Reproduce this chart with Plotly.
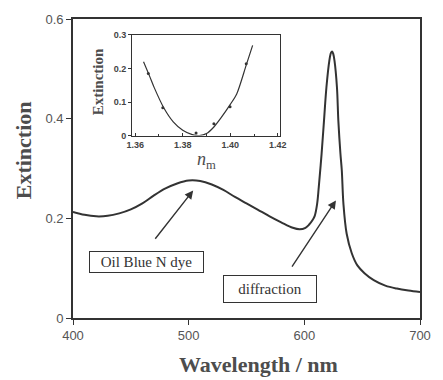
import plotly.graph_objects as go

# Extinction spectrum of the dye-doped grating
wavelength = [400, 410, 420, 430, 440, 450, 460, 470, 480, 490, 500, 510, 520, 530,
              540, 550, 560, 570, 580, 590, 596, 601, 604, 607, 609, 611, 612.5, 614.9,
              617, 619.1, 621.6, 623, 624, 625, 626.1, 628.2, 629.4, 631.2, 632.4,
              633.8, 636.6, 641, 646, 652, 660, 670, 680, 690, 700]
extinction = [0.213, 0.207, 0.204, 0.205, 0.210, 0.218, 0.230, 0.246, 0.260, 0.270,
              0.276, 0.275, 0.268, 0.257, 0.243, 0.230, 0.217, 0.204, 0.192, 0.181,
              0.178, 0.181, 0.187, 0.196, 0.205, 0.228, 0.263, 0.329, 0.396, 0.463,
              0.516, 0.532, 0.535, 0.530, 0.516, 0.463, 0.396, 0.330, 0.296, 0.229,
              0.169, 0.130, 0.105, 0.090, 0.076, 0.065, 0.059, 0.055, 0.052]

# Inset: diffraction extinction vs. medium refractive index
n_fit = [1.3635, 1.366, 1.368, 1.372, 1.376, 1.380, 1.384, 1.387, 1.390, 1.393,
         1.396, 1.400, 1.4027, 1.4067, 1.4094]
ext_fit = [0.220, 0.178, 0.143, 0.083, 0.041, 0.016, 0.003, 0.000, 0.006, 0.025,
           0.052, 0.093, 0.124, 0.210, 0.269]
n_meas = [1.3655, 1.3716, 1.3856, 1.3931, 1.3999, 1.4067]
ext_meas = [0.185, 0.083, 0.008, 0.035, 0.086, 0.214]

main_ticks_x = [400, 500, 600, 700]
main_ticks_y = [0, 0.2, 0.4, 0.6]
main_ticktext_y = ["0", "0.2", "0.4", "0.6"]
inset_ticks_x = [1.36, 1.38, 1.40, 1.42]
inset_ticktext_x = ["1.36", "1.38", "1.40", "1.42"]
inset_ticks_y = [0, 0.1, 0.2, 0.3]
inset_ticktext_y = ["0", "0.1", "0.2", "0.3"]

LINE = "#333333"
TEXT = "#4d4d4d"
SERIF = "Liberation Serif, Times New Roman, serif"
SANS = "Liberation Sans, Arial, sans-serif"

fig = go.Figure()
fig.add_trace(go.Scatter(x=wavelength, y=extinction, mode="lines",
                         line=dict(color=LINE, width=2, shape="spline", smoothing=1.0),
                         xaxis="x", yaxis="y", hoverinfo="skip"))
fig.add_trace(go.Scatter(x=n_fit, y=ext_fit, mode="lines",
                         line=dict(color=LINE, width=1.2, shape="spline", smoothing=0.8),
                         xaxis="x2", yaxis="y2", hoverinfo="skip"))
fig.add_trace(go.Scatter(x=n_meas, y=ext_meas, mode="markers",
                         marker=dict(color=LINE, size=3),
                         xaxis="x2", yaxis="y2", hoverinfo="skip"))

axis_common = dict(showgrid=False, zeroline=False, showline=True, mirror=True,
                   linecolor=LINE)

fig.update_layout(
    width=443, height=380,
    margin=dict(l=73, r=12, t=18, b=62),
    paper_bgcolor="white", plot_bgcolor="white",
    showlegend=False,
    xaxis=dict(**axis_common, linewidth=1.6, range=[400, 700], tickvals=main_ticks_x,
               ticks="outside", ticklen=5, tickcolor=LINE,
               tickfont=dict(family=SANS, size=13, color="#555555")),
    yaxis=dict(**axis_common, linewidth=1.6, range=[0, 0.6], tickvals=main_ticks_y,
               ticktext=main_ticktext_y, ticks="outside", ticklen=5, tickcolor=LINE,
               tickfont=dict(family=SANS, size=13, color="#555555")),
    xaxis2=dict(**axis_common, linewidth=1.2, domain=[0.1704, 0.5978], anchor="y2",
                range=[1.3587, 1.4211], tickvals=inset_ticks_x, ticktext=inset_ticktext_x,
                ticks="inside", ticklen=3, tickcolor=LINE,
                minor=dict(dtick=0.01, tick0=1.36, ticks="inside", ticklen=2, tickcolor=LINE),
                tickfont=dict(family=SANS, size=9, color="#444444", weight="bold")),
    yaxis2=dict(**axis_common, linewidth=1.2, domain=[0.61, 0.9467], anchor="x2",
                range=[0, 0.3], tickvals=inset_ticks_y, ticktext=inset_ticktext_y,
                ticks="outside", ticklen=3, tickcolor=LINE,
                tickfont=dict(family=SANS, size=9, color="#444444", weight="bold")),
)

centered = dict(xanchor="center", yanchor="middle", showarrow=False)
annotations = [
    # axis titles
    dict(text="<b>Extinction</b>", xref="paper", yref="paper", x=-0.142, y=0.56,
         textangle=-90, font=dict(family=SERIF, size=22, color=TEXT), **centered),
    dict(text="<b>Wavelength / nm</b>", xref="paper", yref="paper", x=0.534, y=-0.157,
         font=dict(family=SERIF, size=22, color=TEXT), **centered),
    dict(text="<b>Extinction</b>", xref="paper", yref="paper", x=0.0707, y=0.79,
         textangle=-90, font=dict(family=SERIF, size=15, color=TEXT), **centered),
    dict(text="<i>n</i><sub>m</sub>", xref="paper", yref="paper", x=0.384, y=0.527,
         font=dict(family=SERIF, size=18, color=TEXT), **centered),
    # labelled boxes
    dict(text="Oil Blue N dye", x=463.4, y=0.112, xref="x", yref="y",
         width=113, height=20, borderpad=0, bordercolor=LINE, borderwidth=1,
         bgcolor="white", font=dict(family=SERIF, size=15, color="#333333"), **centered),
    dict(text="diffraction", x=569.9, y=0.058, xref="x", yref="y",
         width=92, height=26, borderpad=0, bordercolor=LINE, borderwidth=1,
         bgcolor="white", font=dict(family=SERIF, size=15, color="#333333"), **centered),
    # pointer arrows
    dict(text="", x=503.9, y=0.256, ax=470.1, ay=0.156, xref="x", yref="y",
         axref="x", ayref="y", showarrow=True, arrowhead=2, arrowsize=1.2,
         arrowwidth=1.4, arrowcolor=LINE),
    dict(text="", x=627.3, y=0.236, ax=588.5, ay=0.10, xref="x", yref="y",
         axref="x", ayref="y", showarrow=True, arrowhead=2, arrowsize=1.2,
         arrowwidth=1.4, arrowcolor=LINE),
]
fig.update_layout(annotations=annotations)

fig.write_html("out.html")
